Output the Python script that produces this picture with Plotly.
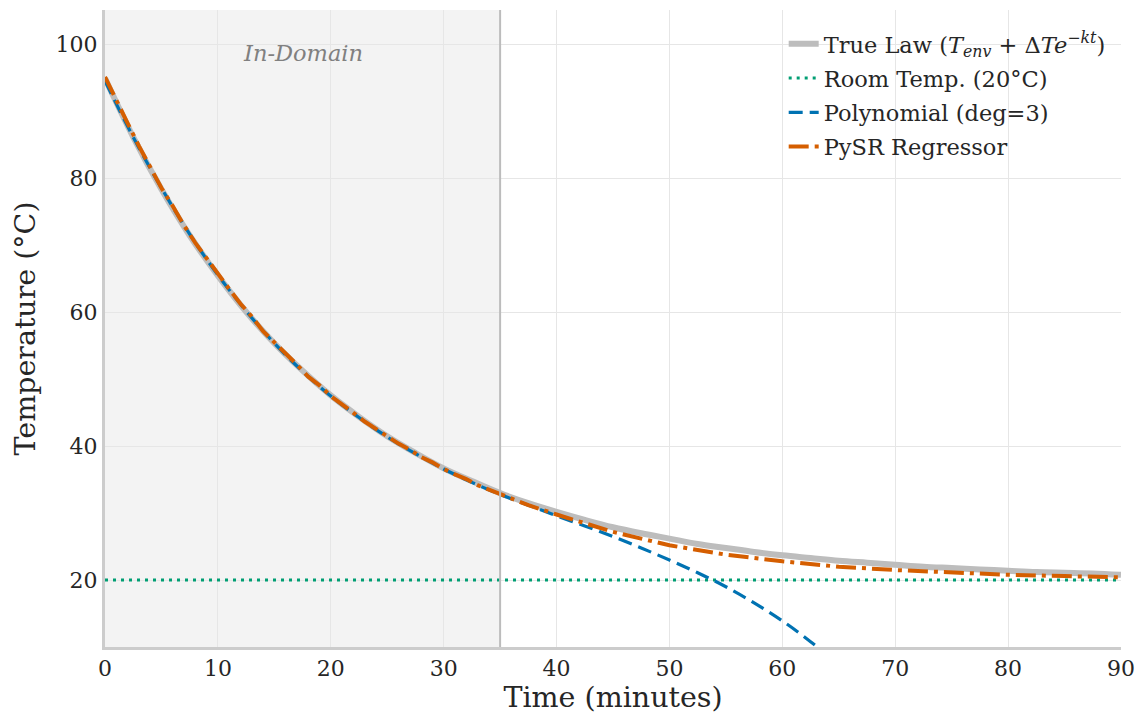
import plotly.graph_objects as go

# ---------------- data ----------------
DOMAIN_END = 35
ROOM_TEMP = 20

true_t = [0, 2.5, 5, 7.5, 10, 12.5, 15, 17.5, 20, 22.5, 25, 27.5, 30, 32.5, 35,
          37.5, 40, 42.5, 45, 47.5, 50, 52.5, 55, 57.5, 60, 62.5, 65, 67.5, 70,
          72.5, 75, 77.5, 80, 82.5, 85, 87.5, 90]
true_T = [95.0, 86.2, 78.4, 71.5, 65.5, 60.1, 55.4, 51.3, 47.6, 44.4, 41.5, 39.0,
          36.7, 34.8, 33.0, 31.5, 30.2, 29.0, 27.9, 27.0, 26.2, 25.4, 24.8, 24.2,
          23.7, 23.3, 22.9, 22.6, 22.3, 22.0, 21.8, 21.6, 21.4, 21.2, 21.1, 21.0, 20.8]

room_t = [0, 90]
room_T = [ROOM_TEMP, ROOM_TEMP]

poly_t = [0, 2.5, 5, 7.5, 10, 12.5, 15, 17.5, 20, 22.5, 25, 27.5, 30, 32.5, 35,
          37.5, 40, 42.5, 45, 47.5, 50, 52.5, 55, 57.5, 60, 62.5, 65]
poly_T = [94.6, 86.2, 78.6, 71.7, 65.6, 60.2, 55.4, 51.2, 47.5, 44.3, 41.4, 38.9,
          36.6, 34.6, 32.8, 31.2, 29.6, 28.1, 26.5, 24.8, 23.0, 21.1, 19.0, 16.6,
          13.9, 10.8, 7.3]

pysr_t = [0, 1, 2, 3, 4, 5, 6, 7, 8, 9, 10, 11, 12, 13, 14, 15, 16, 17, 18, 19,
          20, 21, 22, 23, 24, 25, 26, 27, 28, 29, 30, 31, 32, 33, 34, 35,
          37.5, 40, 45, 50, 55, 60, 65, 70, 75, 80, 85, 90]
pysr_T = [95.2, 91.9, 88.3, 84.9, 81.6, 78.6, 75.9, 73.0, 70.4, 68.1, 65.6, 63.5,
          61.3, 59.4, 57.2, 55.6, 53.8, 52.2, 50.4, 49.1, 47.5, 46.3, 45.0, 43.7,
          42.6, 41.4, 40.4, 39.5, 38.4, 37.6, 36.6, 35.8, 35.1, 34.2, 33.5, 32.8,
          31.2, 29.8, 27.2, 25.2, 23.8, 22.8, 22.0, 21.5, 21.1, 20.8, 20.6, 20.4]

x_ticks = [0, 10, 20, 30, 40, 50, 60, 70, 80, 90]
y_ticks = [20, 40, 60, 80, 100]

FONT = "DejaVu Serif"
TXT = "#262626"

fig = go.Figure()

fig.add_trace(go.Scatter(
    x=true_t, y=true_T, mode="lines", line_shape="spline",
    name="True Law (<i>T</i><sub><i>env</i></sub> + Δ<i>Te</i><sup>−<i>kt</i></sup>)",
    line=dict(color="#bdbdbd", width=6), legendgroup="a"))
fig.add_trace(go.Scatter(
    x=room_t, y=room_T, mode="lines", name="Room Temp. (20°C)",
    line=dict(color="#009E73", width=3, dash="3px,5px"), legendgroup="b"))
fig.add_trace(go.Scatter(
    x=poly_t, y=poly_T, mode="lines", line_shape="spline",
    name="Polynomial (deg=3)",
    line=dict(color="#0072B2", width=3.2, dash="14px,7px"), legendgroup="c"))
fig.add_trace(go.Scatter(
    x=pysr_t, y=pysr_T, mode="lines", line_shape="linear",
    name="PySR Regressor",
    line=dict(color="#D55E00", width=4, dash="20px,6px,4px,6px"), legendgroup="d"))

# In-domain shading and boundary
fig.add_shape(type="rect", xref="x", yref="paper", x0=0, x1=DOMAIN_END, y0=0, y1=1,
              fillcolor="#f3f3f3", line_width=0, layer="below")
fig.add_shape(type="line", xref="x", yref="paper", x0=DOMAIN_END, x1=DOMAIN_END,
              y0=0, y1=1, line=dict(color="#bcbcbc", width=2))
fig.add_annotation(x=DOMAIN_END / 2, y=98.7, xref="x", yref="y", text="<i>In-Domain</i>",
                   showarrow=False, font=dict(family=FONT, size=22.5, color="#808080"))

fig.update_layout(
    width=1138, height=717,
    margin=dict(l=105, r=17, t=10, b=70, autoexpand=False),
    paper_bgcolor="white", plot_bgcolor="white",
    font=dict(family=FONT, color=TXT),
    legend=dict(x=0.668, y=0.98, xanchor="left", yanchor="top",
                bgcolor="rgba(0,0,0,0)", font=dict(family=FONT, size=22.5, color=TXT),
                tracegroupgap=2),
    showlegend=True,
)
fig.update_xaxes(range=[0, 90], tickvals=x_ticks, showgrid=True, gridcolor="#e6e6e6",
                 gridwidth=1, zeroline=False, showline=True, linecolor="#cccccc",
                 linewidth=3, ticks="", automargin=False,
                 tickfont=dict(family=FONT, size=22, color=TXT),
                 title=dict(text="Time (minutes)", font=dict(family=FONT, size=28.5, color=TXT),
                            standoff=4))
fig.update_yaxes(range=[10, 105.2], tickvals=y_ticks, showgrid=True, gridcolor="#e6e6e6",
                 gridwidth=1, zeroline=False, showline=True, linecolor="#cccccc",
                 linewidth=3, ticks="", automargin=False,
                 tickfont=dict(family=FONT, size=22, color=TXT),
                 title=dict(text="Temperature (°C)", font=dict(family=FONT, size=28.5, color=TXT),
                            standoff=12))

fig.write_html("out.html", config={"displayModeBar": False},
               post_script="document.body.style.margin='0';document.body.style.overflow='hidden';")
